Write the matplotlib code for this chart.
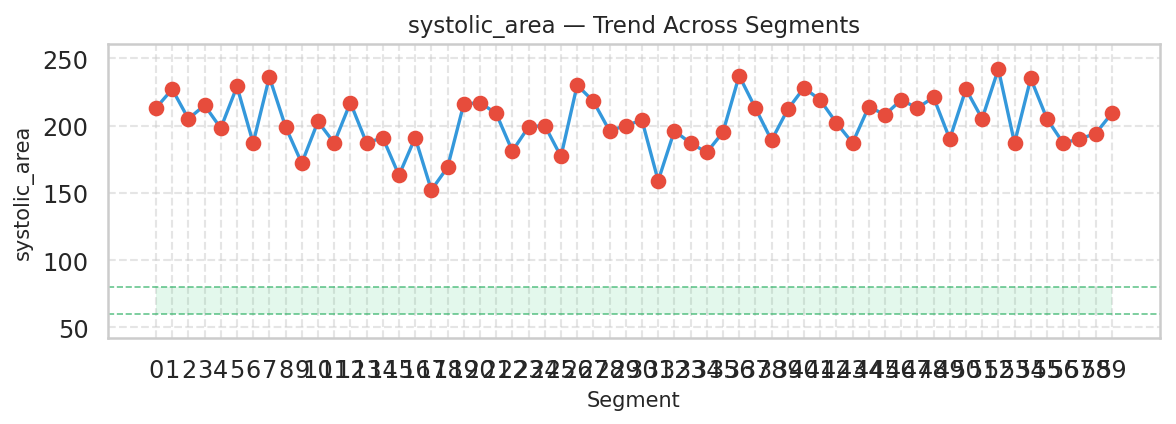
import matplotlib
matplotlib.use("Agg")
import matplotlib.pyplot as plt
import seaborn as sns
import numpy as np

# values
segments = list(range(60))
systolic_area = [
    213, 227, 205, 215, 198, 229, 187, 236, 199, 172,
    203, 187, 217, 187, 191, 163, 191, 152, 169, 216,
    217, 209, 181, 199, 200, 177, 230, 218, 196, 200,
    204, 159, 196, 187, 180, 195, 237, 213, 189, 212,
    228, 219, 202, 187, 214, 208, 219, 213, 221, 190,
    227, 205, 242, 187, 235, 205, 187, 190, 194, 209,
]
normal_low = 60
normal_high = 80

sns.set_theme(style="whitegrid")

fig, ax = plt.subplots(figsize=(7.84, 2.833), dpi=150)

ax.fill_between(segments, normal_low, normal_high, color="#2ecc71", alpha=0.13, linewidth=0)
ax.axhline(normal_low, color="#27ae60", linestyle="--", linewidth=0.8, alpha=0.7)
ax.axhline(normal_high, color="#27ae60", linestyle="--", linewidth=0.8, alpha=0.7)

ax.plot(segments, systolic_area, color="#3498db", linewidth=1.6, zorder=3)
ax.plot(segments, systolic_area, "o", color="#e74c3c", markersize=6.5, zorder=4)

ax.set_xticks(segments)
ax.set_xticklabels([str(s) for s in segments])
ax.set_xlim(-2.95, 61.95)
ax.set_ylim(42, 260.5)
ax.set_yticks([50, 100, 150, 200, 250])
ax.tick_params(labelsize=11.5)

ax.grid(True, linestyle="--", alpha=0.5)
for s in ax.spines.values():
    s.set_color("#cccccc")
    s.set_linewidth(1.2)

ax.set_title("systolic_area — Trend Across Segments", fontsize=11)
ax.set_xlabel("Segment", fontsize=10)
ax.set_ylabel("systolic_area", fontsize=10)

fig.subplots_adjust(left=0.092, right=0.986, top=0.894, bottom=0.202)
plt.savefig("out.png", dpi=150)
